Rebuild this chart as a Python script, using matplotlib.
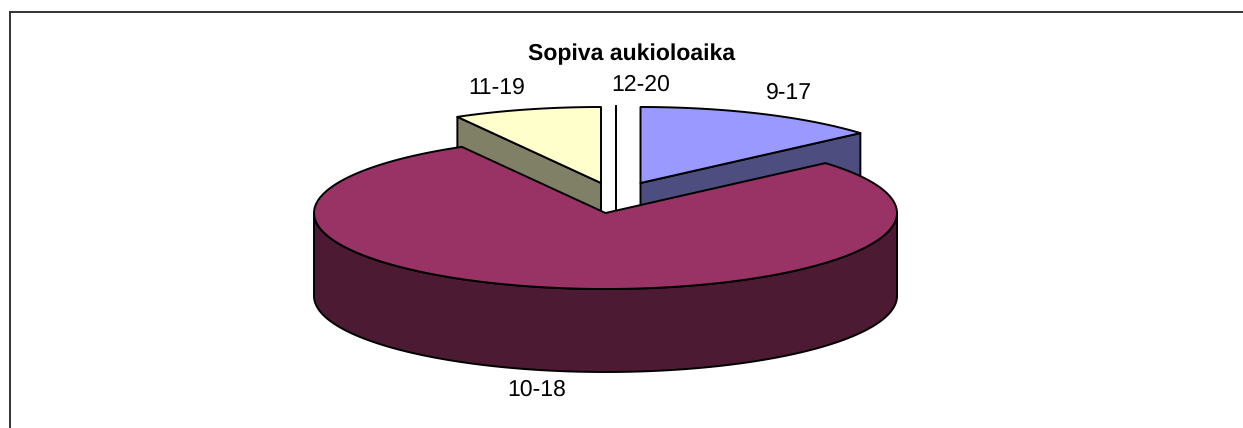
import numpy as np
import matplotlib
matplotlib.use("Agg")
import matplotlib.pyplot as plt

plt.rcParams['font.family'] = ['Liberation Sans', 'DejaVu Sans']
plt.rcParams['text.hinting'] = 'none'
plt.rcParams['text.hinting_factor'] = 1

# Data
labels = ["9-17", "10-18", "11-19", "12-20"]
values = [13.6, 78.2, 8.2, 0.0]

top_colors = ["#9999FF", "#993366", "#FFFFCC", "#FFFFFF"]
side_colors = ["#4D4D80", "#4D1A33", "#808066", "#808080"]

# Pie geometry in pixels
centers = [(640.5, 183), (605.5, 213), (601, 183), (615.7, 183)]
rx = 291.5
ry = 76
depth = 83
lw = 1.4
i_order = [3, 4, 2, 1]


def ell(cx, cy, a):
    # a in radians, clockwise from the top of the pie
    return cx + rx * np.sin(a), cy - ry * np.cos(a)


def draw_slice(ax, i, a0, a1):
    cx, cy = centers[i]
    t = np.linspace(a0, a1, 200)
    x, y = ell(cx, cy, t)

    # rim, only the part that faces the viewer
    lo, hi = max(a0, np.pi / 2), min(a1, 3 * np.pi / 2)
    if hi > lo:
        s = np.linspace(lo, hi, 200)
        sx, sy = ell(cx, cy, s)
        ax.fill(np.r_[sx, sx[::-1]], np.r_[sy, sy[::-1] + depth],
                fc=side_colors[i], ec="black", lw=lw, joinstyle="round", zorder=i_order[i])

    # cut face towards the viewer
    if a0 > np.pi:
        fx, fy = ell(cx, cy, a0)
    else:
        fx, fy = ell(cx, cy, a1)
    if a1 - a0 < np.pi:
        ax.fill([cx, fx, fx, cx], [cy, fy, fy + depth, cy + depth],
                fc=side_colors[i], ec="black", lw=lw, joinstyle="round", zorder=i_order[i])

    ax.fill(np.r_[cx, x], np.r_[cy, y], fc=top_colors[i], ec="black", lw=lw,
            joinstyle="round", zorder=i_order[i])


fig = plt.figure(figsize=(12.43, 4.28), dpi=100)
ax = fig.add_axes([0, 0, 1, 1])
ax.set_xlim(0, 1243)
ax.set_ylim(428, 0)
ax.axis("off")

ends = np.cumsum(values) / np.sum(values) * 2 * np.pi
starts = np.r_[0, ends[:-1]]
for i in range(len(values)):
    draw_slice(ax, i, starts[i], ends[i])

# the empty slice is only a line
cx, cy = centers[3]
ax.plot([cx, cx], [cy - ry - 1, cy + depth], color="black", lw=lw, zorder=i_order[3])

# Chart frame
ax.plot([9.7, 9.7], [428, 12], color="#333333", lw=1.4)
ax.plot([9.7, 1243], [12, 12], color="#333333", lw=1.4)

fs = 16.4
ax.text(632, 54, "Sopiva aukioloaika", ha="center", va="center", fontsize=fs, fontweight="bold", color="black")
ax.text(789, 93, labels[0], ha="center", va="center", fontsize=fs)
ax.text(536.5, 390, labels[1], ha="center", va="center", fontsize=fs)
ax.text(497, 88, labels[2], ha="center", va="center", fontsize=fs)
ax.text(640.5, 85, labels[3], ha="center", va="center", fontsize=fs)

fig.savefig("out.png", dpi=100)
